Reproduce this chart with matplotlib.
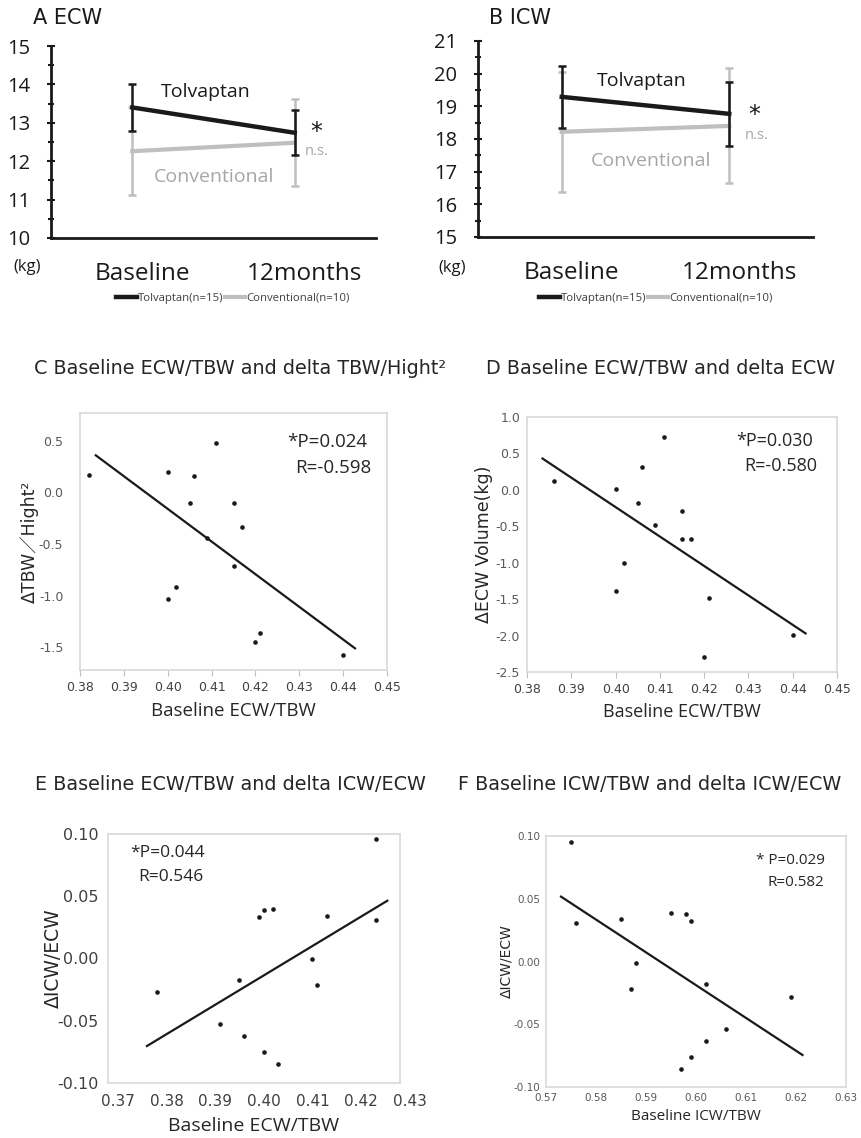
import numpy as np
import matplotlib
matplotlib.use("Agg")
import matplotlib.pyplot as plt
from matplotlib.ticker import MultipleLocator, FormatStrFormatter
from matplotlib.transforms import ScaledTranslation
from matplotlib.lines import Line2D

plt.rcParams['axes.unicode_minus'] = False
plt.rcParams['font.family'] = ['DejaVu Sans', 'Noto Sans CJK JP']

# ---------------- data ----------------
time_labels = ["Baseline", "12months"]
group_labels = ["Tolvaptan(n=15)", "Conventional(n=10)"]

ecw_tolv_mean = [13.40, 12.74]
ecw_tolv_sd = [0.62, 0.59]
ecw_conv_mean = [12.26, 12.48]
ecw_conv_sd = [1.14, 1.13]

icw_tolv_mean = [19.29, 18.77]
icw_tolv_sd = [0.94, 0.97]
icw_conv_mean = [18.22, 18.40]
icw_conv_sd = [1.84, 1.76]

c_x = [0.382, 0.400, 0.406, 0.411, 0.405, 0.415, 0.417, 0.409, 0.415, 0.402, 0.400, 0.421, 0.420, 0.440]
c_y = [0.17, 0.20, 0.16, 0.48, -0.10, -0.10, -0.33, -0.44, -0.71, -0.92, -1.03, -1.36, -1.45, -1.57]
c_fit_x = [0.3836, 0.4427]
c_fit_y = [0.36, -1.51]

d_x = [0.386, 0.400, 0.406, 0.411, 0.405, 0.415, 0.409, 0.415, 0.417, 0.402, 0.400, 0.421, 0.420, 0.440]
d_y = [0.12, 0.01, 0.32, 0.72, -0.18, -0.29, -0.48, -0.68, -0.68, -1.00, -1.39, -1.49, -2.29, -1.99]
d_fit_x = [0.3835, 0.4429]
d_fit_y = [0.43, -1.97]

e_x = [0.425, 0.380, 0.401, 0.402, 0.404, 0.415, 0.425, 0.412, 0.413, 0.397, 0.393, 0.398, 0.402, 0.405]
e_y = [0.096, -0.027, 0.033, 0.039, 0.040, 0.034, 0.031, 0.000, -0.021, -0.017, -0.053, -0.062, -0.075, -0.085]
e_fit_x = [0.3780, 0.4274]
e_fit_y = [-0.0703, 0.0464]

f_x = [0.575, 0.576, 0.585, 0.595, 0.598, 0.599, 0.588, 0.587, 0.602, 0.619, 0.606, 0.602, 0.599, 0.597]
f_y = [0.095, 0.031, 0.034, 0.039, 0.038, 0.032, -0.001, -0.022, -0.018, -0.028, -0.054, -0.063, -0.076, -0.086]
f_fit_x = [0.573, 0.6213]
f_fit_y = [0.0517, -0.0745]

# ---------------- figure ----------------
W, H = 862, 1138
fig = plt.figure(figsize=(W / 100, H / 100), dpi=100)

def rect(l, t, r, b):
    return [l / W, 1 - b / H, (r - l) / W, (b - t) / H]

BLACK = "#1a1a1a"
GRAY = "#bfbfbf"
GRAYTXT = "#a6a6a6"
TXT = "#262626"
SANS2 = ["Open Sans", "DejaVu Sans"]


def line_panel(ax, tm, ts, cm, cs, ylim, title, tpos, txt):
    x = np.arange(len(time_labels))
    ax.errorbar(x, cm, yerr=cs, color=GRAY, lw=3, elinewidth=1.8,
                capsize=3, capthick=1.8, zorder=2)
    ax.errorbar(x, tm, yerr=ts, color=BLACK, lw=3.2, elinewidth=1.8,
                capsize=3, capthick=1.8, zorder=3)
    ax.set_xlim(-0.5, 1.5)
    ax.set_ylim(*ylim)
    for s in ["top", "right"]:
        ax.spines[s].set_visible(False)
    for s in ["left", "bottom"]:
        ax.spines[s].set_linewidth(2)
        ax.spines[s].set_color(BLACK)
    ax.yaxis.set_major_locator(MultipleLocator(1))
    ax.yaxis.set_minor_locator(MultipleLocator(0.5))
    ax.tick_params(axis='y', which='major', direction='inout', length=6, width=1.5,
                   labelsize=14.5, pad=12, colors=BLACK)
    ax.tick_params(axis='y', which='minor', direction='inout', length=5, width=1.5, colors=BLACK)
    for lab in ax.get_yticklabels():
        lab.set_fontfamily(SANS2)
    ax.set_xticks(x)
    ax.set_xticklabels(time_labels, fontsize=17.5, family=SANS2, color=BLACK)
    ax.tick_params(axis='x', length=0, pad=17)
    off = ScaledTranslation(10 / 100, 0, fig.dpi_scale_trans)
    for lab in ax.get_xticklabels():
        lab.set_transform(lab.get_transform() + off)
    ax.text(txt['tx'], txt['ty'], "Tolvaptan", fontsize=14, family=SANS2, color=BLACK,
            ha='center', va='center')
    ax.text(txt['cx'], txt['cy'], "Conventional", fontsize=14, family=SANS2, color=GRAYTXT,
            ha='center', va='center')
    ax.text(txt['sx'], txt['sy'], "*", fontsize=17, color=BLACK, ha='center', va='center')
    ax.text(txt['nx'], txt['ny'], "n.s.", fontsize=10.5, family=SANS2, color=GRAYTXT,
            ha='left', va='center')
    fig.text(tpos[0] / W, 1 - tpos[1] / H, title, fontsize=15, color=BLACK,
             ha='left', va='center')


axA = fig.add_axes(rect(51, 46, 376, 238))
line_panel(axA, ecw_tolv_mean, ecw_tolv_sd, ecw_conv_mean, ecw_conv_sd, (10, 15),
           "A ECW", (33, 18),
           dict(tx=0.45, ty=13.80, cx=0.50, cy=11.59, sx=1.13, sy=12.75, nx=1.06, ny=12.25))
fig.text(27 / W, 1 - 267 / H, "(kg)", fontsize=12, family=SANS2, color=BLACK, ha='center', va='center')

axB = fig.add_axes(rect(478, 41, 813, 237))
line_panel(axB, icw_tolv_mean, icw_tolv_sd, icw_conv_mean, icw_conv_sd, (15, 21),
           "B ICW", (489, 18),
           dict(tx=0.48, ty=19.77, cx=0.53, cy=17.33, sx=1.15, sy=18.72, nx=1.09, ny=18.1))
fig.text(452 / W, 1 - 268 / H, "(kg)", fontsize=12, family=SANS2, color=BLACK, ha='center', va='center')

# legends for A and B
for cx in (233, 656):
    handles = [Line2D([], [], color=BLACK, lw=3.2), Line2D([], [], color=GRAY, lw=3)]
    leg = fig.legend(handles, group_labels, loc='center', bbox_to_anchor=(cx / W, 1 - 298 / H),
                     ncol=2, frameon=False, handlelength=1.8, handletextpad=0.1,
                     columnspacing=0.1, prop={'family': SANS2, 'size': 8.2})
    for t in leg.get_texts():
        t.set_color("#404040")


def scatter_panel(ax, x, y, fx, fy, xlim, ylim, xmaj, ymaj, xfmt, yfmt):
    ax.scatter(x, y, s=11, color=BLACK, zorder=3, linewidths=0)
    ax.plot(fx, fy, color=BLACK, lw=1.6, zorder=2)
    ax.set_xlim(*xlim)
    ax.set_ylim(*ylim)
    for s in ax.spines.values():
        s.set_color("#d9d9d9")
        s.set_linewidth(1.2)
    ax.xaxis.set_major_locator(MultipleLocator(xmaj))
    ax.yaxis.set_major_locator(MultipleLocator(ymaj))
    ax.xaxis.set_major_formatter(FormatStrFormatter(xfmt))
    ax.yaxis.set_major_formatter(FormatStrFormatter(yfmt))


# ---- C ----
axC = fig.add_axes(rect(80, 413, 387, 670))
scatter_panel(axC, c_x, c_y, c_fit_x, c_fit_y, (0.38, 0.45), (-1.72, 0.77), 0.01, 0.5, '%.2f', '%.1f')
axC.tick_params(axis='x', direction='out', length=4, color="#bfbfbf", labelsize=9, labelcolor="#404040", pad=4)
axC.tick_params(axis='y', length=0, labelsize=9, labelcolor="#595959", pad=12)
axC.set_xlabel("Baseline ECW/TBW", fontsize=13.5, family=SANS2, color=TXT, labelpad=6)
axC.set_ylabel("ΔTBW／Hight²", fontsize=12.5, color=TXT, labelpad=0)
fig.text(287 / W, 1 - 442 / H, "*P=0.024", fontsize=13.5, family=SANS2, color=TXT, va='center')
fig.text(295 / W, 1 - 468 / H, "R=-0.598", fontsize=13.5, family=SANS2, color=TXT, va='center')
fig.text(34 / W, 1 - 368 / H, "C Baseline ECW/TBW and delta TBW/Hight²", fontsize=13.8,
         color=TXT, ha='left', va='center')

# ---- D ----
axD = fig.add_axes(rect(527, 417, 837, 672))
scatter_panel(axD, d_x, d_y, d_fit_x, d_fit_y, (0.38, 0.45), (-2.5, 1.0), 0.01, 0.5, '%.2f', '%.1f')
axD.tick_params(axis='x', direction='out', length=4, color="#bfbfbf", labelsize=9, labelcolor="#404040", pad=4)
axD.tick_params(axis='y', length=0, labelsize=9, labelcolor="#595959", pad=5)
axD.set_xlabel("Baseline ECW/TBW", fontsize=13, family=SANS2, color=TXT, labelpad=5)
axD.set_ylabel("ΔECW Volume(kg)", fontsize=12.5, color=TXT, labelpad=2)
fig.text(736 / W, 1 - 441 / H, "*P=0.030", fontsize=13, family=SANS2, color=TXT, va='center')
fig.text(744 / W, 1 - 466 / H, "R=-0.580", fontsize=13, family=SANS2, color=TXT, va='center')
fig.text(486 / W, 1 - 368 / H, "D Baseline ECW/TBW and delta ECW", fontsize=13.8,
         color=TXT, ha='left', va='center')

# ---- E ----
axE = fig.add_axes(rect(108, 834, 400, 1083))
scatter_panel(axE, e_x, e_y, e_fit_x, e_fit_y, (0.37, 0.43), (-0.10, 0.10), 0.01, 0.05, '%.2f', '%.2f')
axE.tick_params(axis='x', length=0, labelsize=11, labelcolor="#404040", pad=8)
axE.tick_params(axis='y', length=0, labelsize=11.5, labelcolor="#404040", pad=7)
offE = ScaledTranslation(10 / 100, 0, fig.dpi_scale_trans)
for lab in axE.get_xticklabels():
    lab.set_transform(lab.get_transform() + offE)
axE.set_xlabel("Baseline ECW/TBW", fontsize=14, family=SANS2, color=TXT, labelpad=6)
axE.set_ylabel("ΔICW/ECW", fontsize=13.5, color=TXT, labelpad=-4)
fig.text(130 / W, 1 - 853 / H, "*P=0.044", fontsize=12.5, family=SANS2, color=TXT, va='center')
fig.text(138 / W, 1 - 877 / H, "R=0.546", fontsize=12.5, family=SANS2, color=TXT, va='center')
fig.text(35 / W, 1 - 785 / H, "E Baseline ECW/TBW and delta ICW/ECW", fontsize=13.8,
         color=TXT, ha='left', va='center')

# ---- F ----
axF = fig.add_axes(rect(546, 836, 846, 1087))
scatter_panel(axF, f_x, f_y, f_fit_x, f_fit_y, (0.57, 0.63), (-0.10, 0.10), 0.01, 0.05, '%.2f', '%.2f')
axF.tick_params(axis='x', length=0, labelsize=7.5, labelcolor="#595959", pad=4)
axF.tick_params(axis='y', length=0, labelsize=7.5, labelcolor="#595959", pad=4)
axF.set_xlabel("Baseline ICW/TBW", fontsize=11, family=SANS2, color=TXT, labelpad=5)
axF.set_ylabel("ΔICW/ECW", fontsize=10, color=TXT, labelpad=0)
fig.text(756 / W, 1 - 861 / H, "* P=0.029", fontsize=11, family=SANS2, color=TXT, va='center')
fig.text(768 / W, 1 - 883 / H, "R=0.582", fontsize=11, family=SANS2, color=TXT, va='center')
fig.text(458 / W, 1 - 785 / H, "F Baseline ICW/TBW and delta ICW/ECW", fontsize=13.8,
         color=TXT, ha='left', va='center')

fig.savefig("out.png", dpi=100, facecolor="white")
